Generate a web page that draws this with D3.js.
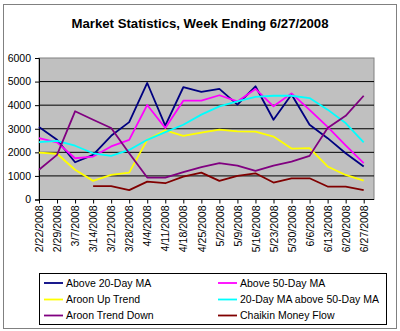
<!DOCTYPE html>
<html><head><meta charset="utf-8">
<script src="https://cdn.jsdelivr.net/npm/d3@7"></script>
<style>body{margin:0;background:#fff}svg{display:block}text{font-family:Arial,"Liberation Sans",sans-serif}</style>
</head><body><svg id="c" width="400" height="331"></svg>
<script>
const dates = ["2/22/2008","2/29/2008","3/7/2008","3/14/2008","3/21/2008","3/28/2008","4/4/2008","4/11/2008","4/18/2008","4/25/2008","5/2/2008","5/9/2008","5/16/2008","5/23/2008","5/30/2008","6/6/2008","6/13/2008","6/20/2008","6/27/2008"];
const above20 = [3070,2530,1580,1890,2700,3280,4940,3130,4760,4560,4690,4020,4800,3380,4450,3170,2600,1960,1400];
const above50 = [2600,2420,1750,1820,2250,2530,4010,3030,4190,4190,4420,4160,4690,3950,4500,3800,3080,2300,1540];
const aroonUp = [1990,1940,1260,790,1040,1140,2530,2930,2700,2840,2960,2890,2880,2670,2160,2180,1400,1040,800];
const ma20above50 = [2430,2490,2280,1960,1850,2100,2530,2860,3170,3600,3950,4160,4350,4400,4400,4300,3810,3240,2420];
const aroonDown = [1260,1890,3740,3380,3030,1960,930,930,1160,1370,1540,1440,1210,1440,1610,1850,3030,3550,4400];
const chaikin = [null,null,null,570,570,400,760,690,970,1140,790,1000,1110,720,900,900,550,550,400];
const yTicks = [0,1000,2000,3000,4000,5000,6000];
const seriesNames = ["Above 20-Day MA","Above 50-Day MA","Aroon Up Trend","20-Day MA above 50-Day MA","Aroon Trend Down","Chaikin Money Flow"];
const seriesColors = ["#000080","#FF00FF","#FFFF00","#00FFFF","#800080","#800000"];
const seriesData = [above20, above50, aroonUp, ma20above50, aroonDown, chaikin];

const parse = d3.timeParse("%m/%d/%Y");
const dts = dates.map(parse);
const svg = d3.select("#c");
const L=39, R=374, T=58, B=199.5;
const x = d3.scaleTime().domain([parse("2/22/2008"), parse("7/1/2008")]).range([L,R]);
const y = d3.scaleLinear().domain([0,6000]).range([B,T]);

svg.append("rect").attr("x",3.5).attr("y",4.5).attr("width",393).attr("height",324).attr("fill","#fff").attr("stroke","#808080");
svg.append("text").attr("x",200).attr("y",28).attr("text-anchor","middle").attr("font-size",13.2).attr("font-weight","bold").text("Market Statistics, Week Ending 6/27/2008");

svg.append("rect").attr("x",L).attr("y",T).attr("width",R-L).attr("height",B-T).attr("fill","#C0C0C0").attr("stroke","#808080");
svg.append("g").selectAll("line").data(yTicks.slice(1,-1)).join("line")
  .attr("x1",L).attr("x2",R).attr("y1",d=>y(d)).attr("y2",d=>y(d)).attr("stroke","#000").attr("stroke-width",1);

const ya = svg.append("g").attr("transform",`translate(${L},0)`).call(d3.axisLeft(y).tickValues(yTicks).tickSize(4).tickPadding(4).tickFormat(d3.format("d")));
ya.selectAll("text").attr("font-size",10.5).attr("fill","#000").attr("font-family","Arial, 'Liberation Sans', sans-serif");
ya.select(".domain").attr("stroke","#000");
ya.selectAll(".tick line").attr("stroke","#000");

const xa = svg.append("g").attr("transform",`translate(0,${B})`).call(d3.axisBottom(x).tickValues(dts).tickSize(4).tickFormat(d3.timeFormat("%-m/%-d/%Y")));
xa.select(".domain").attr("stroke","#000").attr("d",`M${L},0H${R}`);
xa.selectAll(".tick line").attr("stroke","#000");
xa.selectAll("text").attr("font-size",10.5).attr("fill","#000").attr("font-family","Arial, 'Liberation Sans', sans-serif")
  .attr("text-anchor","end").attr("transform","rotate(-90)").attr("x",-6).attr("y",0).attr("dy","0.35em");

const line = d3.line().defined(d=>d[1]!=null).x(d=>x(d[0])).y(d=>y(d[1]));
seriesData.forEach((s,i)=>{
  svg.append("path").datum(s.map((v,j)=>[dts[j],v])).attr("d",line).attr("fill","none")
    .attr("stroke",seriesColors[i]).attr("stroke-width",1.8).attr("stroke-linejoin","round");
});

const lg = svg.append("g");
lg.append("rect").attr("x",39.5).attr("y",273.5).attr("width",347).attr("height",51).attr("fill","#fff").attr("stroke","#000");
const cols=[44,218], rows=[283,299.5,315.5];
seriesNames.forEach((n,i)=>{
  const cx=cols[i%2], cy=rows[Math.floor(i/2)];
  lg.append("line").attr("x1",cx).attr("x2",cx+19).attr("y1",cy).attr("y2",cy).attr("stroke",seriesColors[i]).attr("stroke-width",1.8);
  lg.append("text").attr("x",cx+22).attr("y",cy).attr("dy","0.35em").attr("font-size",10.5).text(n);
});
</script></body></html>
